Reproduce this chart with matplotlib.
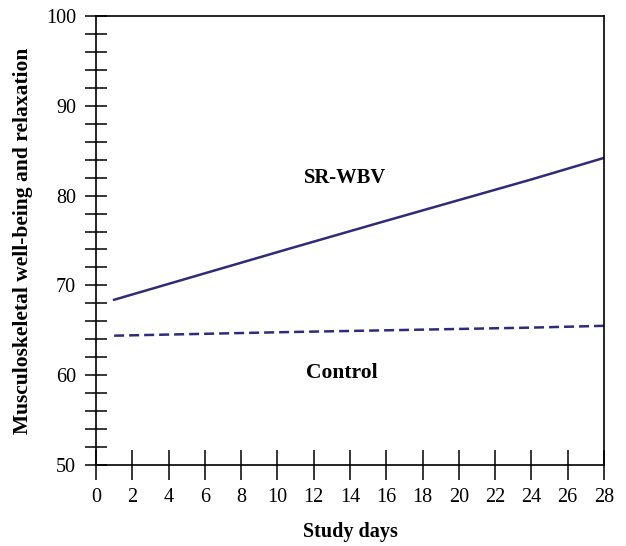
import matplotlib
matplotlib.use("Agg")
import matplotlib.pyplot as plt
from matplotlib.ticker import MultipleLocator

plt.rcParams["font.family"] = ["Liberation Serif", "DejaVu Serif"]

# data
days = [1, 10.5, 16, 24, 28]
sr_wbv = [68.4, 74.0, 77.2, 81.8, 84.2]
control = [64.4, 64.8, 65.0, 65.3, 65.5]

x_ticks = list(range(0, 29, 2))
y_ticks = [50, 60, 70, 80, 90, 100]

navy = "#2e2c7a"

fig = plt.figure(figsize=(6.26, 5.46), dpi=100)
ax = fig.add_axes([96 / 626, 81 / 546, 508 / 626, 449 / 546])

ax.plot(days, sr_wbv, color=navy, lw=1.8)
ax.plot(days, control, color=navy, lw=1.8, ls=(0, (4, 2)))

ax.text(13.7, 82, "SR-WBV", ha="center", va="center", fontsize=14.8, fontweight="bold")
ax.text(13.55, 60.2, "Control", ha="center", va="center", fontsize=15.5, fontweight="bold")

ax.set_xlim(0, 28)
ax.set_ylim(50, 100)
ax.set_xticks(x_ticks)
ax.set_yticks(y_ticks)
ax.yaxis.set_minor_locator(MultipleLocator(2))

ax.tick_params(axis="x", direction="inout", length=21, width=1.1, labelsize=14.5, pad=6)
ax.tick_params(axis="y", which="both", direction="inout", length=16.5, width=1.1, labelsize=14.5, pad=6)

for s in ax.spines.values():
    s.set_linewidth(1.2)

ax.set_xlabel("Study days", fontsize=14.5, fontweight="bold")
ax.set_ylabel("Musculoskeletal well-being and relaxation", fontsize=15.5, fontweight="bold")
ax.xaxis.label.set_va("center")
ax.xaxis.set_label_coords(0.5, (465 - 532) / 449)
ax.yaxis.label.set_va("center")
ax.yaxis.set_label_coords((23 - 96) / 508, 0.5)

fig.savefig("out.png", dpi=100)
